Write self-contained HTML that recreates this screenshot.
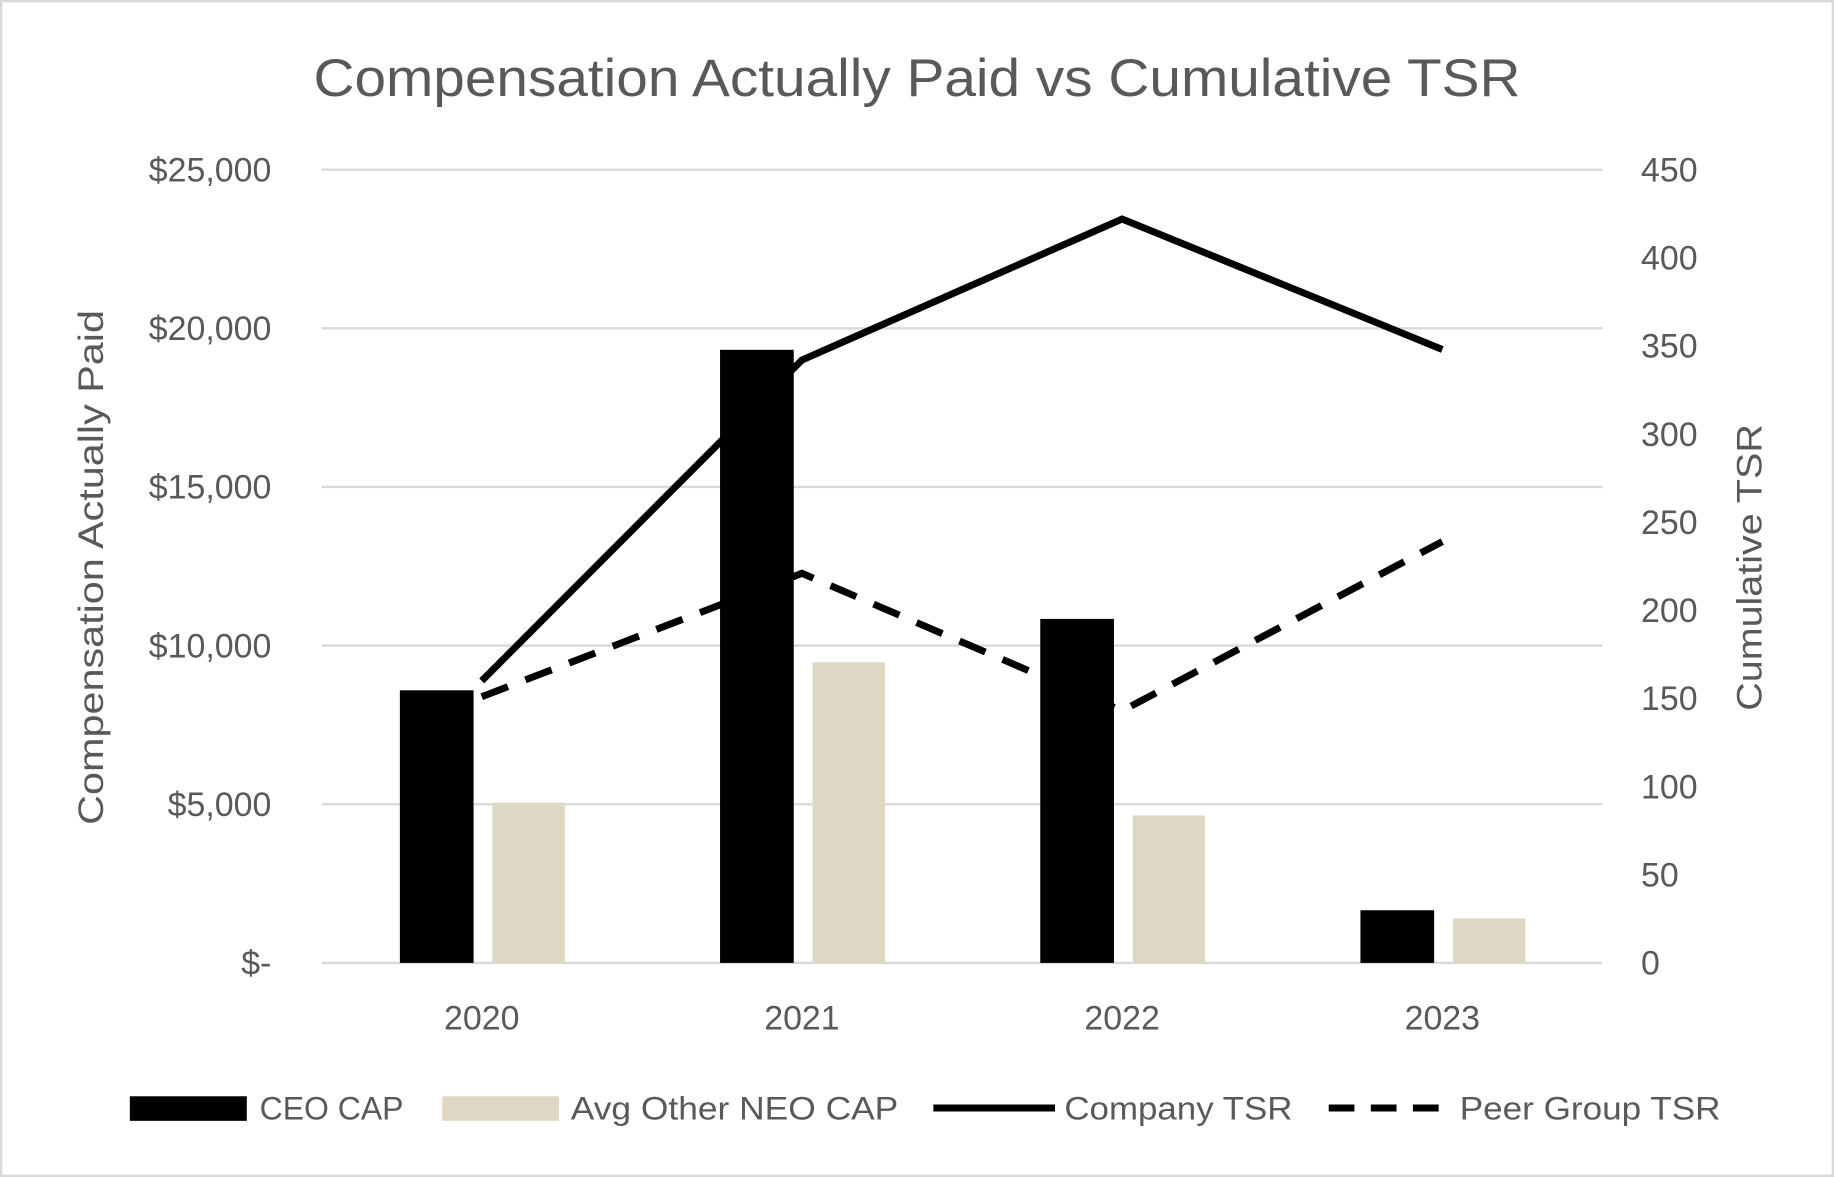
<!DOCTYPE html>
<html><head><meta charset="utf-8"><style>
html,body{margin:0;padding:0;background:#fff}
svg{display:block}
text{font-family:"Liberation Sans",sans-serif;fill:#595959}
</style></head><body>
<svg width="1834" height="1177" viewBox="0 0 1568 1006" preserveAspectRatio="none" xmlns="http://www.w3.org/2000/svg">
<rect x="1" y="1" width="1566" height="1004" fill="#fff" stroke="#d9d9d9" stroke-width="2"/>
<text x="268" y="82" font-size="45" textLength="1032" lengthAdjust="spacingAndGlyphs">Compensation Actually Paid vs Cumulative TSR</text>
<g id="grid"></g><g id="bars"></g><g id="lines"></g><g id="axes"></g>
<text transform="translate(88,485) rotate(-90)" font-size="30" text-anchor="middle" textLength="440" lengthAdjust="spacingAndGlyphs">Compensation Actually Paid</text>
<text transform="translate(1506,485) rotate(-90)" font-size="30" text-anchor="middle" textLength="245" lengthAdjust="spacingAndGlyphs">Cumulative TSR</text>
<g>
<rect x="111" y="937" width="100" height="21" fill="#000"/>
<text x="222" y="957" font-size="28" textLength="123" lengthAdjust="spacingAndGlyphs">CEO CAP</text>
<rect x="378" y="937" width="100" height="21" fill="#ddd8c4"/>
<text x="488" y="957" font-size="28" textLength="280" lengthAdjust="spacingAndGlyphs">Avg Other NEO CAP</text>
<line x1="798" y1="947" x2="902" y2="947" stroke="#000" stroke-width="6"/>
<text x="910" y="957" font-size="28" textLength="195" lengthAdjust="spacingAndGlyphs">Company TSR</text>
<line x1="1136" y1="947" x2="1240" y2="947" stroke="#000" stroke-width="6" stroke-dasharray="22,14"/>
<text x="1248" y="957" font-size="28" textLength="223" lengthAdjust="spacingAndGlyphs">Peer Group TSR</text>
</g>
</svg>
<script>
const categories=["2020","2021","2022","2023"];
const ceoCap=[8591,19322,10841,1659];
const neoCap=[5052,9476,4646,1401];
const companyTsr=[160,342,422,348];
const peerTsr=[151,221,143,239];
const leftTicks=[0,5000,10000,15000,20000,25000];
const leftTickLabels=["$-","$5,000","$10,000","$15,000","$20,000","$25,000"];
const rightTicks=[0,50,100,150,200,250,300,350,400,450];

const NS="http://www.w3.org/2000/svg";
const x0=275,x1=1370,yBase=823,yTop=145;
const yL=v=>yBase-(v/25000)*(yBase-yTop);
const yR=v=>yBase-(v/450)*(yBase-yTop);
const bw=(x1-x0)/categories.length;
const xC=i=>x0+bw*(i+0.5);
function mk(tag,attrs,parent){const e=document.createElementNS(NS,tag);for(const k in attrs)e.setAttribute(k,attrs[k]);document.getElementById(parent).appendChild(e);return e;}
leftTicks.forEach((t,i)=>{
  const g=mk("line",{x1:x0,x2:x1,y1:yL(t),y2:yL(t),stroke:"#d9d9d9","stroke-width":2},"grid");
  
  
  const l=mk("text",{x:232,y:yL(t)+10,"font-size":29,"text-anchor":"end"},"axes");
  l.textContent=leftTickLabels[i];
  
  
});
rightTicks.forEach(t=>{
  const l=mk("text",{x:1403,y:yR(t)+10,"font-size":29},"axes");
  l.textContent=String(t);
  
  
});
categories.forEach((c,i)=>{
  const l=mk("text",{x:xC(i),y:880,"font-size":29,"text-anchor":"middle"},"axes");
  l.textContent=c;
  
  
  const b1=mk("rect",{x:xC(i)-70,y:yL(ceoCap[i]),width:63,height:yBase-yL(ceoCap[i]),fill:"#000"},"bars");
  
  
  const b2=mk("rect",{x:xC(i)+9,y:yL(neoCap[i]),width:62,height:yBase-yL(neoCap[i]),fill:"#ddd8c4"},"bars");
  
  
});
const pts=a=>a.map((v,i)=>xC(i)+","+yR(v)).join(" ");
const p1=mk("polyline",{points:pts(companyTsr),fill:"none",stroke:"#000","stroke-width":6,"stroke-linejoin":"miter"},"lines");


const p2=mk("polyline",{points:pts(peerTsr),fill:"none",stroke:"#000","stroke-width":6,"stroke-dasharray":"24,16"},"lines");


</script>
</body></html>
